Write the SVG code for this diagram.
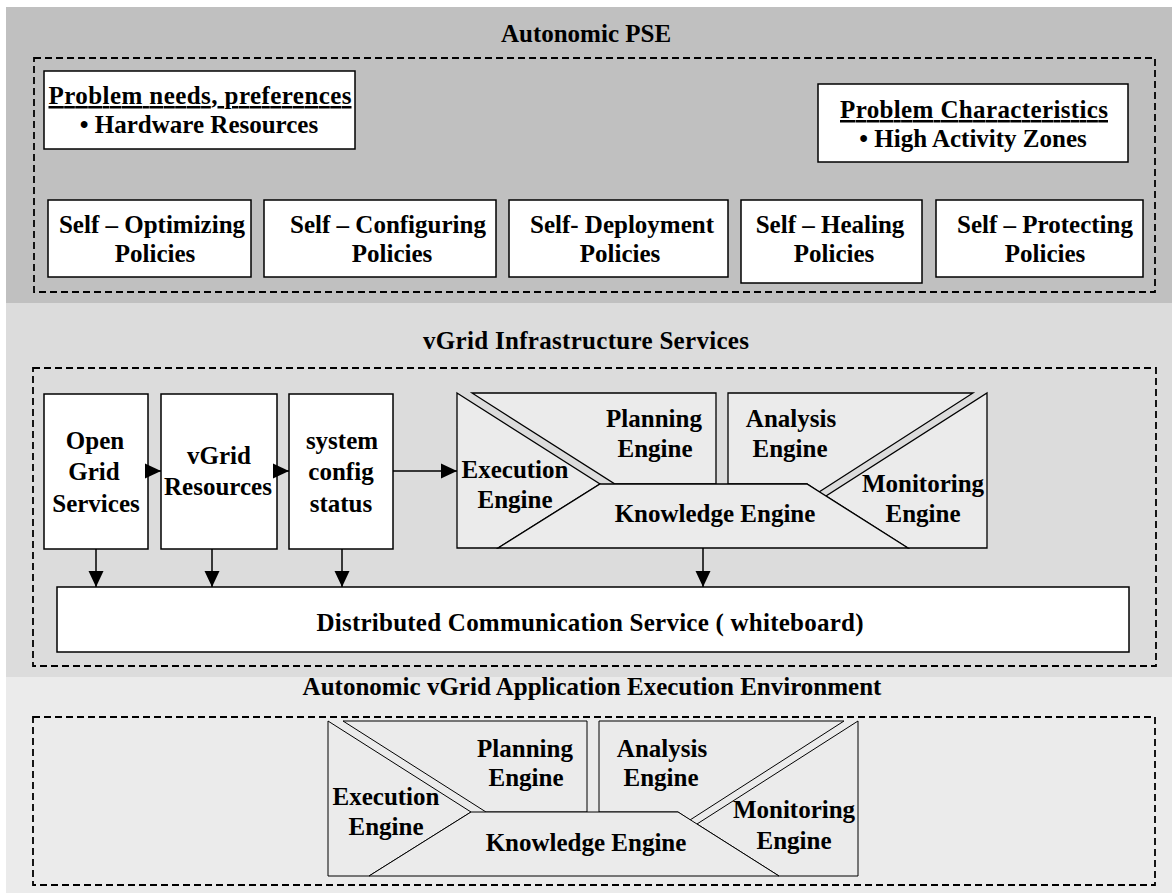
<svg xmlns="http://www.w3.org/2000/svg" width="1172" height="893" viewBox="0 0 1172 893">
<defs>
<style>
text { font-family: "Liberation Serif", "Times New Roman", serif; font-weight: bold; font-size: 25px; fill: #000; text-anchor: middle; }
.box { fill: #ffffff; stroke: #000; stroke-width: 1.5; }
.dash { fill: none; stroke: #000; stroke-width: 1.8; stroke-dasharray: 7 4; }
.eng { fill: #ebebeb; stroke: #000; stroke-width: 1.3; stroke-linejoin: miter; }
.eng2 { fill: #ebebeb; stroke: #000; stroke-width: 1; stroke-linejoin: miter; }
.conn { stroke: #000; stroke-width: 1.5; fill: none; marker-end: url(#ah); }
.ul { text-decoration: underline; }
</style>
<marker id="ah" markerUnits="userSpaceOnUse" markerWidth="16" markerHeight="16" viewBox="0 0 16 16" refX="16" refY="8" orient="auto">
<path d="M0,0.5 L16,8 L0,15.5 z" fill="#000"/>
</marker>
</defs>

<!-- bands -->
<g id="bands">
<rect x="6" y="7" width="1166" height="296" fill="#c0c0c0"/>
<rect x="6" y="303" width="1166" height="374" fill="#dcdcdc"/>
<rect x="6" y="677" width="1166" height="216" fill="#ebebeb"/>
</g>

<!-- Autonomic PSE layer -->
<g id="layer-pse">
<text x="586" y="42">Autonomic PSE</text>
<rect class="dash" x="34" y="58" width="1121" height="234"/>
</g>

<g id="node-needs">
<rect class="box" x="44" y="71" width="311" height="78"/>
<text class="ul" x="200" y="104" textLength="303">Problem needs, preferences</text>
<text x="199" y="133">• Hardware Resources</text>
</g>

<g id="node-characteristics">
<rect class="box" x="818" y="84" width="310" height="78"/>
<text class="ul" x="974" y="118" textLength="268">Problem Characteristics</text>
<text x="973" y="147">• High Activity Zones</text>
</g>

<g id="node-self-optimizing">
<rect class="box" x="48" y="200" width="203" height="77"/>
<text x="152" y="233">Self – Optimizing</text>
<text x="155" y="262">Policies</text>
</g>

<g id="node-self-configuring">
<rect class="box" x="264" y="200" width="232" height="77"/>
<text x="388" y="233">Self – Configuring</text>
<text x="392" y="262">Policies</text>
</g>

<g id="node-self-deployment">
<rect class="box" x="509" y="200" width="219" height="77"/>
<text x="622" y="233">Self- Deployment</text>
<text x="620" y="262">Policies</text>
</g>

<g id="node-self-healing">
<rect class="box" x="741" y="200" width="181" height="83"/>
<text x="830" y="233">Self – Healing</text>
<text x="834" y="262">Policies</text>
</g>

<g id="node-self-protecting">
<rect class="box" x="936" y="200" width="207" height="77"/>
<text x="1045" y="233">Self – Protecting</text>
<text x="1045" y="262">Policies</text>
</g>

<!-- vGrid Infrastructure layer -->
<g id="layer-infra">
<text x="586" y="349" textLength="326">vGrid Infrastructure Services</text>
<rect class="dash" x="33" y="368" width="1123" height="298"/>
</g>

<g id="node-open-grid">
<rect class="box" x="44" y="394" width="104" height="155"/>
<text x="95" y="449">Open</text>
<text x="94" y="480">Grid</text>
<text x="96" y="512">Services</text>
</g>

<g id="node-vgrid-resources">
<rect class="box" x="161" y="394" width="116" height="155"/>
<text x="219" y="464">vGrid</text>
<text x="218" y="495">Resources</text>
</g>

<g id="node-system-config">
<rect class="box" x="289" y="394" width="104" height="155"/>
<text x="342" y="449">system</text>
<text x="341" y="480">config</text>
<text x="341" y="512">status</text>
</g>

<g id="node-engines-infra" transform="translate(457,393)">
<g id="infra-execution">
<polygon class="eng" points="0,0 143,91 41,155 0,155"/>
<text x="58" y="85">Execution</text>
<text x="58" y="115">Engine</text>
</g>
<g id="infra-planning">
<polygon class="eng" points="15,0 259,0 259,91 158,91"/>
<text x="197" y="34">Planning</text>
<text x="198" y="64">Engine</text>
</g>
<g id="infra-analysis">
<polygon class="eng" points="271,0 516,0 362,99 350,91 271,91"/>
<text x="334" y="34">Analysis</text>
<text x="333" y="64">Engine</text>
</g>
<g id="infra-monitoring">
<polygon class="eng" points="530,0 530,155 451,155 369,103"/>
<text x="466" y="99">Monitoring</text>
<text x="466" y="129">Engine</text>
</g>
<g id="infra-knowledge">
<polygon class="eng" points="143,91 350,91 451,155 41,155"/>
<text x="258" y="129">Knowledge Engine</text>
</g>
</g>

<g id="node-dcs">
<rect class="box" x="57" y="587" width="1072" height="65"/>
<text x="590" y="631" textLength="547">Distributed Communication Service ( whiteboard)</text>
</g>

<!-- Application Execution Environment layer -->
<g id="layer-app">
<text x="592" y="695">Autonomic vGrid Application Execution Environment</text>
<rect class="dash" x="33" y="717" width="1122" height="168"/>
</g>

<g id="node-engines-app" transform="translate(328,721)">
<g id="app-execution">
<polygon class="eng2" points="0,0 143,91 41,155 0,155"/>
<text x="58" y="84">Execution</text>
<text x="58" y="114">Engine</text>
</g>
<g id="app-planning">
<polygon class="eng2" points="15,0 259,0 259,91 158,91"/>
<text x="197" y="36">Planning</text>
<text x="198" y="65">Engine</text>
</g>
<g id="app-analysis">
<polygon class="eng2" points="271,0 516,0 362,99 350,91 271,91"/>
<text x="334" y="36">Analysis</text>
<text x="333" y="65">Engine</text>
</g>
<g id="app-monitoring">
<polygon class="eng2" points="530,0 530,155 451,155 369,103"/>
<text x="466" y="97">Monitoring</text>
<text x="466" y="128">Engine</text>
</g>
<g id="app-knowledge">
<polygon class="eng2" points="143,91 350,91 451,155 41,155"/>
<text x="258" y="130">Knowledge Engine</text>
</g>
</g>

<!-- connectors -->
<g id="connectors">
<line class="conn" x1="148" y1="471" x2="161" y2="471"/>
<line class="conn" x1="277" y1="471" x2="289" y2="471"/>
<line class="conn" x1="393" y1="471" x2="457" y2="471"/>
<line class="conn" x1="96" y1="549" x2="96" y2="587"/>
<line class="conn" x1="212" y1="549" x2="212" y2="587"/>
<line class="conn" x1="342" y1="549" x2="342" y2="587"/>
<line class="conn" x1="703" y1="548" x2="703" y2="587"/>
</g>
</svg>
